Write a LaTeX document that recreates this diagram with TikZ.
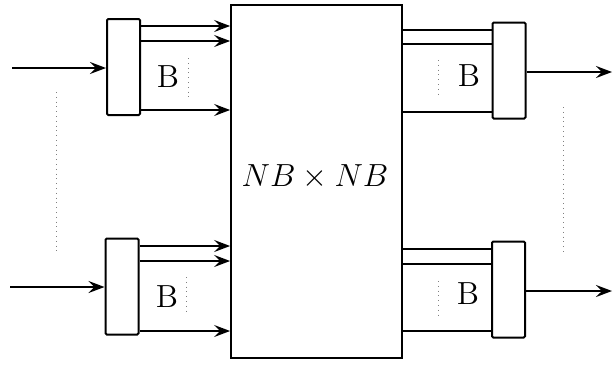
\documentclass[tikz,border=0pt]{standalone}
\usetikzlibrary{arrows.meta}
\tikzset{
  mux/.style={draw, line width=1pt, rounded corners=0.6pt, minimum width=16.5pt, minimum height=48pt, inner sep=0pt},
  arr/.style={line width=1pt, -{Stealth[length=8pt,width=6pt,inset=3pt]}},
  wire/.style={line width=1pt},
  dots/.style={dotted, line width=0.4pt, gray},
  lbl/.style={font=\Large, scale=1.11}
}
\begin{document}
\begin{tikzpicture}[x=0.5pt,y=-0.5pt]
\useasboundingbox (0,0) rectangle (613,364);
% switch
\node[draw, line width=0.9pt, minimum width=85.5pt, minimum height=176.5pt, inner sep=0pt] (sw) at (316.5,181.5) {};
\node[lbl] (swlbl) at (315,177) {$NB\times NB$};
% input side
\node[mux] (mi1) at (123.5,67) {};
\node[mux] (mi2) at (122,286.5) {};
\coordinate (in1) at (12,68);
\coordinate (in2) at (10,287);
\draw[arr] (in1) -- (mi1.west |- in1);
\draw[arr] (in2) -- (mi2.west |- in2);
\draw[arr] (mi1.east |- 0,26) -- (sw.west |- 0,26);
\draw[arr] (mi1.east |- 0,41) -- (sw.west |- 0,41);
\draw[arr] (mi1.east |- 0,110) -- (sw.west |- 0,110);
\draw[arr] (mi2.east |- 0,246) -- (sw.west |- 0,246);
\draw[arr] (mi2.east |- 0,261) -- (sw.west |- 0,261);
\draw[arr] (mi2.east |- 0,331) -- (sw.west |- 0,331);
\node[lbl] (bi1) at (168,77) {B};
\node[lbl] (bi2) at (167,297) {B};
\draw[dots] (188,58) -- (188,97);
\draw[dots] (186,277) -- (186,313);
\draw[dots] (56,92) -- (56,252);
% output side
\node[mux] (mo1) at (509,70.5) {};
\node[mux] (mo2) at (508.5,289.5) {};
\coordinate (out1) at (612,72);
\coordinate (out2) at (612,291);
\draw[arr] (mo1.east |- out1) -- (out1);
\draw[arr] (mo2.east |- out2) -- (out2);
\draw[wire] (sw.east |- 0,30) -- (mo1.west |- 0,30);
\draw[wire] (sw.east |- 0,44) -- (mo1.west |- 0,44);
\draw[wire] (sw.east |- 0,112) -- (mo1.west |- 0,112);
\draw[wire] (sw.east |- 0,249) -- (mo2.west |- 0,249);
\draw[wire] (sw.east |- 0,264) -- (mo2.west |- 0,264);
\draw[wire] (sw.east |- 0,331) -- (mo2.west |- 0,331);
\node[lbl] (bo1) at (469,76) {B};
\node[lbl] (bo2) at (468,294) {B};
\draw[dots] (438,60) -- (438,96);
\draw[dots] (438,281) -- (438,317);
\draw[dots] (563,107) -- (563,255);
\end{tikzpicture}
\end{document}
